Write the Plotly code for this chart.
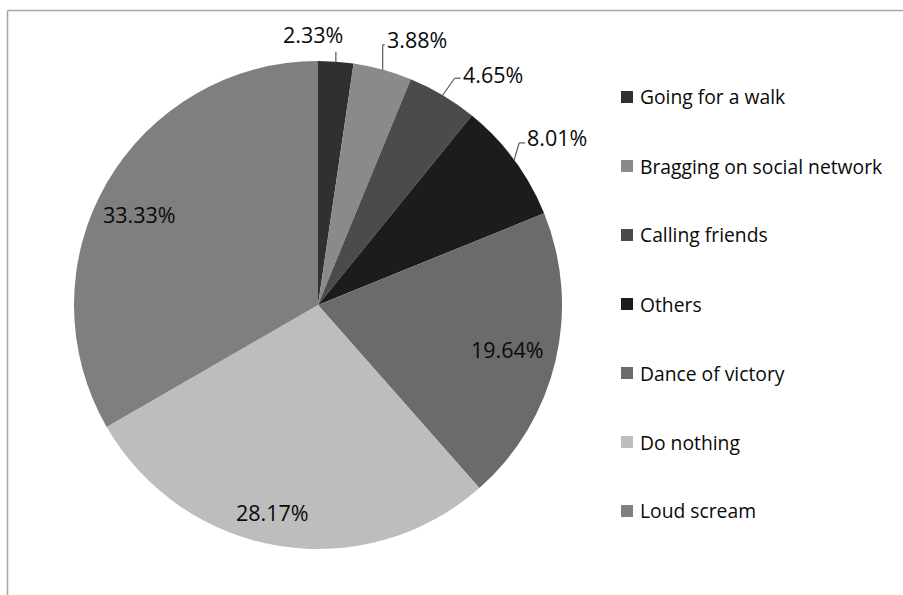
import math
import plotly.graph_objects as go

# Reactions after a win (share of respondents, %)
categories = ["Going for a walk", "Bragging on social network", "Calling friends",
              "Others", "Dance of victory", "Do nothing", "Loud scream"]
shares = [2.33, 3.88, 4.65, 8.01, 19.64, 28.17, 33.33]
labels = ["2.33%", "3.88%", "4.65%", "8.01%", "19.64%", "28.17%", "33.33%"]
colors = ["#303030", "#8a8a8a", "#4b4b4b", "#1c1c1c", "#6b6b6b", "#bdbdbd", "#7f7f7f"]

W, H = 903, 595
CX, CY, R = 318, 305, 244          # pie centre / radius in pixels
FONT = "Open Sans"

fig = go.Figure(go.Pie(
    labels=categories, values=shares, sort=False, direction="clockwise",
    rotation=0, textinfo="none", hoverinfo="label+percent",
    marker=dict(colors=colors, line=dict(width=0)),
    domain=dict(x=[(CX - R) / W, (CX + R) / W],
                y=[(H - CY - R) / H, (H - CY + R) / H]),
    showlegend=False,
))

def px(x, y):
    return x / W, 1 - y / H

shapes, annots = [], []

# frame (top and left edges)
shapes.append(dict(type="line", xref="paper", yref="paper", x0=7.5 / W, x1=1,
                   y0=1 - 10.5 / H, y1=1 - 10.5 / H, line=dict(color="#a6a6a6", width=1.5)))
shapes.append(dict(type="line", xref="paper", yref="paper", x0=7.5 / W, x1=7.5 / W,
                   y0=0, y1=1 - 10.5 / H, line=dict(color="#a6a6a6", width=1.5)))

# outside labels: (elbow offset, text offset, anchor) relative to slice edge point
outside = {
    0: ((0, -10), (-23, -27), "center"),
    1: ((0, -25), (2, -30), "left"),
    2: ((12, -17), (18, -21), "left"),
    3: ((5, -17), (11, -22), "left"),
}
# inside labels: (radial fraction, angular nudge in degrees)
inside = {4: (0.80, 0.0), 5: (0.87, 3.0), 6: (0.82, -3.0)}
LABEL_SIZE = 21.5

total = sum(shares)
cum = 0.0
for i, v in enumerate(shares):
    mid = (cum + v / 2) / total * 2 * math.pi
    cum += v
    if i in outside:
        sx, sy = math.sin(mid), -math.cos(mid)
        (ex, ey), (tx, ty), anc = outside[i]
        x0, y0 = CX + R * sx, CY + R * sy
        pts = [(x0, y0), (x0 + ex, y0 + ey)]
        if anc == "left":
            pts.append((x0 + tx, y0 + ey))
        for (a, b), (c, d) in zip(pts[:-1], pts[1:]):
            (p0, q0), (p1, q1) = px(a, b), px(c, d)
            shapes.append(dict(type="line", xref="paper", yref="paper",
                               x0=p0, y0=q0, x1=p1, y1=q1,
                               line=dict(color="#595959", width=1.2)))
        lx, ly = px(x0 + tx, y0 + ty)
        annots.append(dict(x=lx, y=ly, xref="paper", yref="paper", text=labels[i],
                           showarrow=False, xanchor=anc, yanchor="middle",
                           font=dict(family=FONT, size=LABEL_SIZE, color="#0a0a0a")))
    else:
        frac, nudge = inside[i]
        ang = mid + math.radians(nudge)
        sx, sy = math.sin(ang), -math.cos(ang)
        lx, ly = px(CX + R * frac * sx, CY + R * frac * sy)
        annots.append(dict(x=lx, y=ly, xref="paper", yref="paper", text=labels[i],
                           showarrow=False, xanchor="center", yanchor="middle",
                           font=dict(family=FONT, size=LABEL_SIZE, color="#0a0a0a")))

# legend drawn as swatches + text
LEG_X, LEG_Y0, LEG_DY, SW = 621, 97, 69, 12
for i, name in enumerate(categories):
    y = LEG_Y0 + i * LEG_DY
    a0, b0 = px(LEG_X, y - SW / 2)
    a1, b1 = px(LEG_X + SW, y + SW / 2)
    shapes.append(dict(type="rect", xref="paper", yref="paper", x0=a0, x1=a1,
                       y0=b1, y1=b0, fillcolor=colors[i], line=dict(width=0)))
    tx, ty = px(LEG_X + SW + 5, y)
    annots.append(dict(x=tx, y=ty, xref="paper", yref="paper", text=name,
                       showarrow=False, xanchor="left", yanchor="middle",
                       font=dict(family=FONT, size=19.3, color="#0a0a0a")))

fig.update_layout(width=W, height=H, margin=dict(l=0, r=0, t=0, b=0),
                  paper_bgcolor="white", plot_bgcolor="white",
                  shapes=shapes, annotations=annots)
fig.write_html("out.html")
